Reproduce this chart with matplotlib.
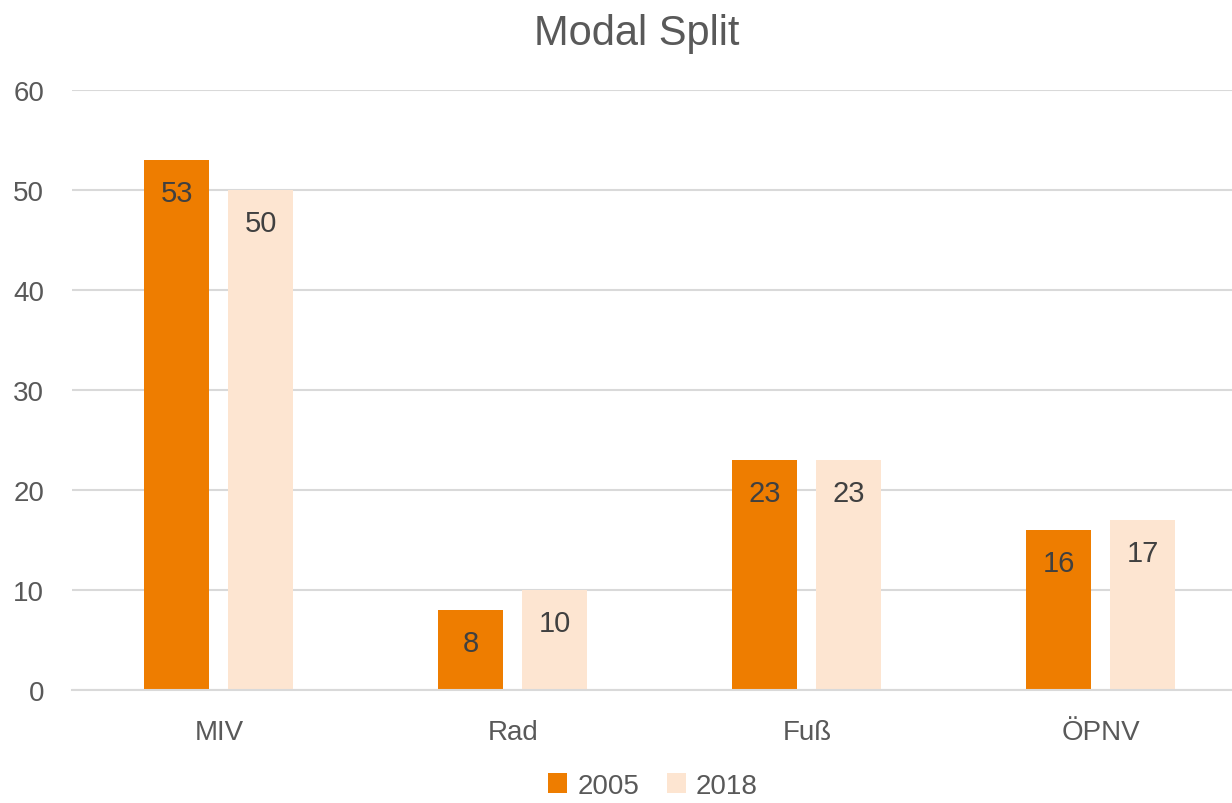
import matplotlib
matplotlib.use("Agg")
import matplotlib.pyplot as plt
import numpy as np

categories = ["MIV", "Rad", "Fuß", "ÖPNV"]
values_2005 = [53, 8, 23, 16]
values_2018 = [50, 10, 23, 17]
series_labels = ["2005", "2018"]
y_ticks = [0, 10, 20, 30, 40, 50, 60]

plt.rcParams['font.family'] = ['Liberation Sans Narrow', 'Liberation Sans', 'DejaVu Sans']

text_color = "#595959"
colors = ["#EE7D00", "#FDE5D1"]

fig = plt.figure(figsize=(12.32, 8.04), dpi=100)
# plot area runs a bit past the right edge, like the original
ax = fig.add_axes([0.0584, 0.1405, 0.9545, 0.7463])

x = np.arange(len(categories))
width = 0.221
offset = 0.143

bars_a = ax.bar(x - offset, values_2005, width, color=colors[0], label=series_labels[0], zorder=2)
bars_b = ax.bar(x + offset, values_2018, width, color=colors[1], label=series_labels[1], zorder=2)

# value labels inside the top of each bar
for bars in (bars_a, bars_b):
    ax.bar_label(bars, labels=[str(v) for v in bars.datavalues], label_type='edge',
                 padding=-34, fontsize=21, color="#404040")

ax.set_xlim(-0.5, len(categories) - 0.5)
ax.set_ylim(0, 60)
ax.set_yticks(y_ticks)
ax.set_xticks(x)
ax.set_xticklabels(categories)
ax.tick_params(axis='both', length=0, labelsize=20, colors=text_color)
ax.tick_params(axis='y', pad=20)
ax.tick_params(axis='x', pad=21)
ax.grid(axis='y', color="#D9D9D9", linewidth=1.5, zorder=0)
for side in ("top", "right", "left"):
    ax.spines[side].set_visible(False)
ax.spines["bottom"].set_color("#D9D9D9")
ax.spines["bottom"].set_linewidth(1.5)
ax.spines["bottom"].set_zorder(3)

fig.suptitle("Modal Split", x=0.517, y=0.982, va='top', fontsize=30, color=text_color)

leg = fig.legend(loc='lower center', bbox_to_anchor=(0.53, -0.026), ncol=2, frameon=False,
                 fontsize=20, handlelength=0.7, handleheight=0.7, handletextpad=0.35,
                 columnspacing=1.0)
for t in leg.get_texts():
    t.set_color(text_color)

fig.savefig("out.png", dpi=100, facecolor="white")
